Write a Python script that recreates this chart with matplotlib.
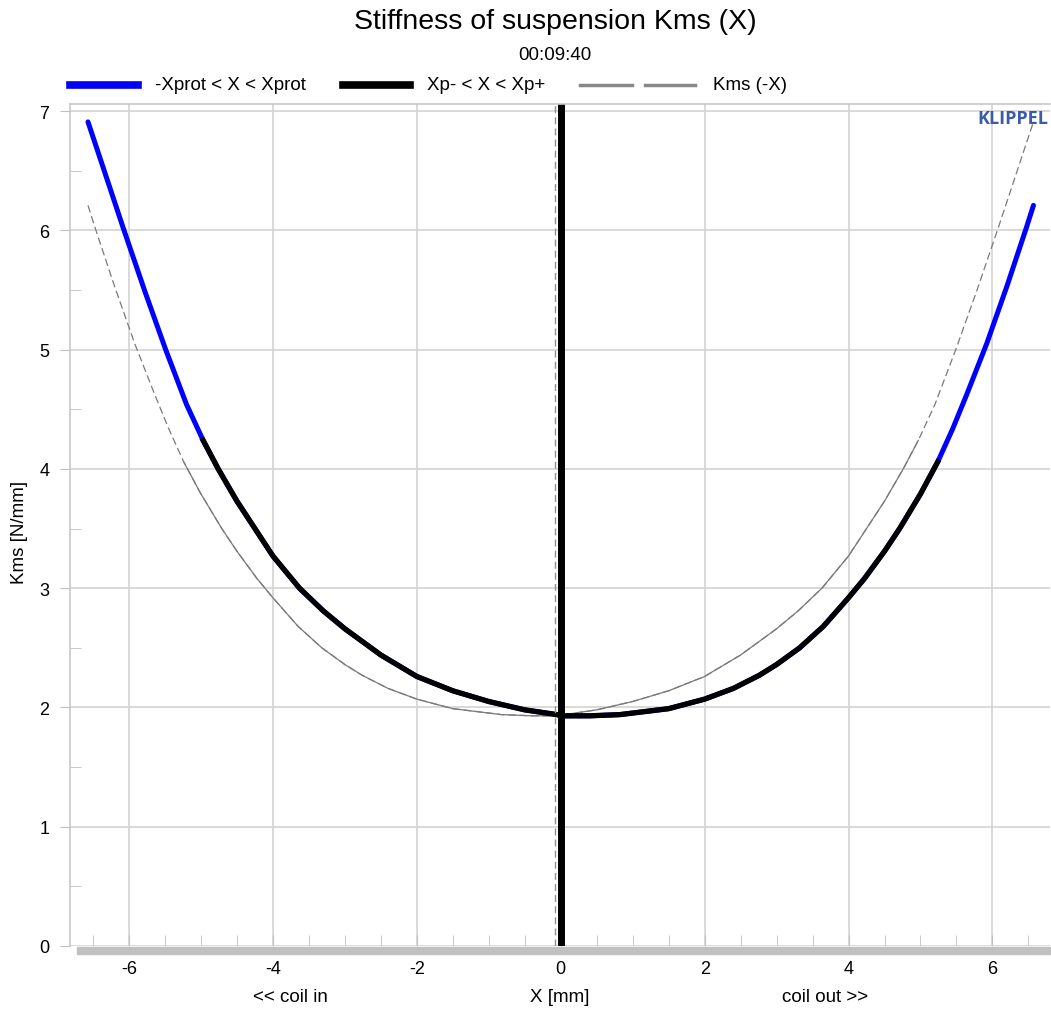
import numpy as np
import matplotlib
matplotlib.use("Agg")
import matplotlib.pyplot as plt
from matplotlib.lines import Line2D
from matplotlib.patches import Rectangle

plt.rcParams['font.family'] = ['Liberation Sans', 'DejaVu Sans']
plt.rcParams['axes.unicode_minus'] = False

# Kms(X), X in mm, Kms in N/mm
x_mm = [-6.57, -6.30, -6.08, -5.78, -5.49, -5.20, -4.97, -4.76, -4.50, -4.00,
        -3.63, -3.30, -3.00, -2.50, -2.00, -1.50, -1.00, -0.50, -0.05, 0.00,
        0.40, 0.82, 1.50, 2.00, 2.40, 2.76, 3.00, 3.32, 3.65, 4.00,
        4.22, 4.50, 4.71, 5.00, 5.24, 5.45, 5.64, 5.92, 6.20, 6.47, 6.57]
kms = [6.91, 6.42, 6.02, 5.49, 5.00, 4.54, 4.24, 4.00, 3.73, 3.27,
       3.00, 2.81, 2.66, 2.44, 2.26, 2.14, 2.05, 1.98, 1.94, 1.93,
       1.93, 1.94, 1.99, 2.07, 2.16, 2.27, 2.36, 2.50, 2.68, 2.92,
       3.08, 3.31, 3.50, 3.79, 4.06, 4.34, 4.62, 5.05, 5.53, 6.02, 6.21]
xp_minus = -4.97
xp_plus = 5.24
x_rest = -0.08
x_ticks = [-6, -4, -2, 0, 2, 4, 6]
y_ticks = [0, 1, 2, 3, 4, 5, 6, 7]

x = np.array(x_mm)
y = np.array(kms)
inner = (x >= xp_minus) & (x <= xp_plus)
# Kms(-X): mirrored curve
xm = -x[::-1]
ym = y[::-1]
inner_m = inner[::-1]

W, H = 1051, 1012
fig = plt.figure(figsize=(W / 100, H / 100), dpi=100)
ax = fig.add_axes([70 / W, 1 - 947 / H, 980 / W, (947 - 105) / H])

grid_c = '#d3d3d3'
ax.grid(True, which='major', color=grid_c, lw=1.2)
ax.set_axisbelow(True)

# mirrored curve, thin gray: dashed outside Xp range, solid inside
ax.plot(xm, ym, color='#7a7a7a', lw=0.9, dashes=(6, 3))
ax.plot(xm[inner_m], ym[inner_m], color='#7a7a7a', lw=0.9)

ax.plot(x, y, color='#0000ff', lw=3.6, solid_capstyle='round', solid_joinstyle='round')
ax.plot(x[inner], y[inner], color='black', lw=3.8, solid_joinstyle='round')

ax.axvline(x_rest, color='#909090', lw=1.0, dashes=(5, 3))
ax.axvline(0, color='black', lw=5.0)

ax.set_xlim(-6.82, 6.8)
ax.set_ylim(0, 7.06)
ax.set_xticks(x_ticks)
ax.set_xticks(np.arange(-6.5, 6.6, 0.5), minor=True)
ax.set_yticks(y_ticks)
ax.set_yticks(np.arange(0.5, 7.0, 1.0), minor=True)
ax.tick_params(axis='x', which='both', direction='in', length=8, color='#c0c0c0',
               labelsize=13, pad=10)
ax.tick_params(axis='y', which='major', direction='out', length=7, color='#c0c0c0',
               labelsize=13, pad=8)
ax.tick_params(axis='y', which='minor', direction='in', length=8, color='#c0c0c0')

for s in ['top', 'left']:
    ax.spines[s].set_color('#c8c8c8')
    ax.spines[s].set_linewidth(1.2)
ax.spines['right'].set_visible(False)
ax.spines['bottom'].set_visible(False)

# thick gray base bar under the x axis
fig.patches.append(Rectangle((77 / W, 1 - 955 / H), (W - 77) / W, 7 / H,
                             transform=fig.transFigure, color='#c0c0c0', zorder=0))

ax.text(0.998, 0.994, 'KLIPPEL', transform=ax.transAxes, ha='right', va='top',
        fontsize=13, fontweight='bold', color='#3a5ba8', family='Open Sans')

fig.text(555 / W, 1 - 22 / H, 'Stiffness of suspension Kms (X)', ha='center',
         va='center', fontsize=20.5)
fig.text(555 / W, 1 - 55 / H, '00:09:40', ha='center', va='center', fontsize=13.5)

fig.text(20 / W, 1 - 532 / H, 'Kms [N/mm]', rotation=90, ha='center', va='center',
         fontsize=13.5)
fig.text(560 / W, 1 - 998 / H, 'X [mm]', ha='center', va='center', fontsize=13.5)
fig.text(290 / W, 1 - 998 / H, '<< coil in', ha='center', va='center', fontsize=13.5)
fig.text(825 / W, 1 - 998 / H, 'coil out >>', ha='center', va='center', fontsize=13.5)

# legend row
ly = 1 - 86 / H
fig.add_artist(Line2D([70 / W, 138 / W], [ly, ly], color='#0000ff', lw=5.5))
fig.text(155 / W, ly, '-Xprot < X < Xprot', va='center', fontsize=13.5)
fig.add_artist(Line2D([343 / W, 410 / W], [ly, ly], color='black', lw=5.5))
fig.text(427 / W, ly, 'Xp- < X < Xp+', va='center', fontsize=13.5)
fig.add_artist(Line2D([580 / W, 632 / W], [ly, ly], color='#888888', lw=2.5))
fig.add_artist(Line2D([645 / W, 695 / W], [ly, ly], color='#888888', lw=2.5))
fig.text(713 / W, ly, 'Kms (-X)', va='center', fontsize=13.5)

fig.savefig('out.png', dpi=100)
